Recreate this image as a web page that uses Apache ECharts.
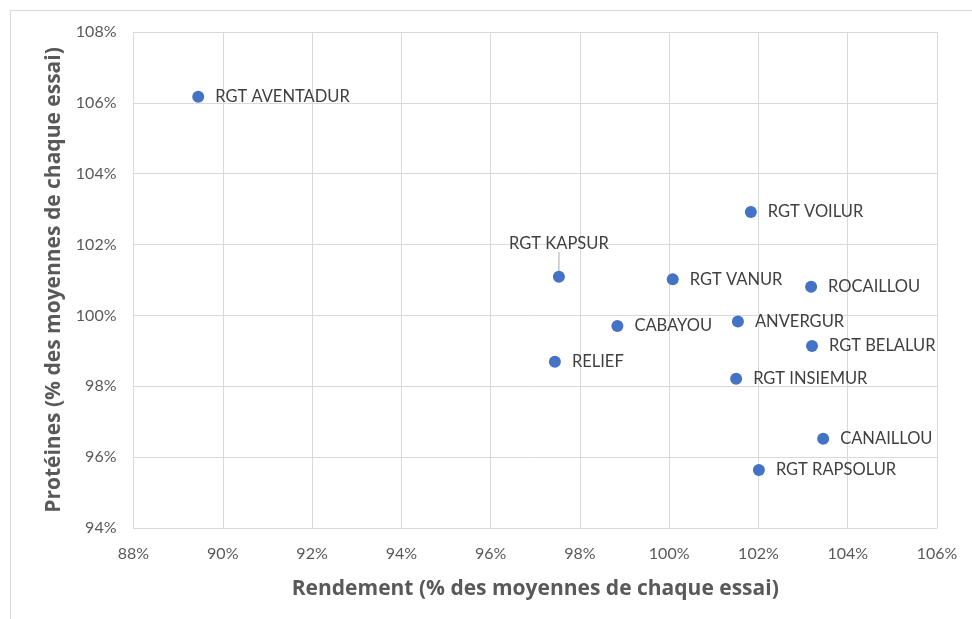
<!DOCTYPE html>
<html>
<head>
<meta charset="utf-8">
<script src="https://cdn.jsdelivr.net/npm/echarts@6/dist/echarts.min.js"></script>
<style>
  html, body { margin: 0; padding: 0; background: #fff; }
  #frame { position: absolute; left: 10px; top: 10px; right: -5px; bottom: -5px; border: 1px solid #d9d9d9; }
  #chart { position: absolute; left: 0; top: 0; width: 972px; height: 619px; }
</style>
</head>
<body>
<div id="frame"></div>
<div id="chart"></div>
<script>
// varieties, yield (% of trial mean) and protein (% of trial mean)
const varieties = ['RGT AVENTADUR', 'RGT VOILUR', 'RGT KAPSUR', 'RGT VANUR', 'ROCAILLOU', 'CABAYOU',
  'ANVERGUR', 'RGT BELALUR', 'RELIEF', 'RGT INSIEMUR', 'CANAILLOU', 'RGT RAPSOLUR']
const rendement = [89.45, 101.83, 97.53, 100.08, 103.18, 98.84, 101.54, 103.2, 97.44, 101.5, 103.45, 102.01]
const proteines = [106.17, 102.92, 101.09, 101.02, 100.81, 99.7, 99.83, 99.14, 98.69, 98.21, 96.52, 95.64]

const labelAbove = ['RGT KAPSUR']

const chart = echarts.init(document.getElementById('chart'))

const points = varieties.map((name, i) => {
  const item = { name, value: [rendement[i], proteines[i]] }
  if (labelAbove.includes(name)) {
    item.label = { position: 'top', distance: 6 }
    item.labelLine = { show: true, lineStyle: { color: '#a6a6a6', width: 1 } }
  }
  return item
})

const axisText = { color: '#595959', fontSize: 16, fontFamily: 'Lato' }
const titleText = { color: '#595959', fontSize: 21, fontWeight: 'bold', fontFamily: 'Open Sans' }

chart.setOption({
  animation: false,
  grid: { left: 133.5, right: 35, top: 32, bottom: 91 },
  xAxis: {
    type: 'value',
    min: 88, max: 106, interval: 2,
    name: 'Rendement (% des moyennes de chaque essai)',
    nameLocation: 'middle',
    nameGap: 51,
    nameTextStyle: titleText,
    axisLine: { show: true, lineStyle: { color: '#d9d9d9' } },
    axisTick: { show: false },
    splitLine: { show: true, lineStyle: { color: '#d9d9d9' } },
    axisLabel: Object.assign({ formatter: '{value}%', margin: 18 }, axisText)
  },
  yAxis: {
    type: 'value',
    min: 94, max: 108, interval: 2,
    name: 'Protéines (% des moyennes de chaque essai)',
    nameLocation: 'middle',
    nameGap: 66,
    nameTextStyle: titleText,
    axisLine: { show: true, lineStyle: { color: '#d9d9d9' } },
    axisTick: { show: false },
    splitLine: { show: true, lineStyle: { color: '#d9d9d9' } },
    axisLabel: Object.assign({ formatter: '{value}%', margin: 17 }, axisText)
  },
  series: [{
    type: 'scatter',
    symbolSize: 12,
    itemStyle: { color: '#4472c4', opacity: 1 },
    label: {
      show: true,
      position: 'right',
      distance: 11,
      formatter: '{b}',
      color: '#404040',
      fontSize: 16.5,
      fontFamily: 'Lato'
    },
    labelLayout: (params) => {
      if (labelAbove.includes(varieties[params.dataIndex])) {
        return { dy: -13 }
      }
      return {}
    },
    data: points
  }]
})
</script>
</body>
</html>
